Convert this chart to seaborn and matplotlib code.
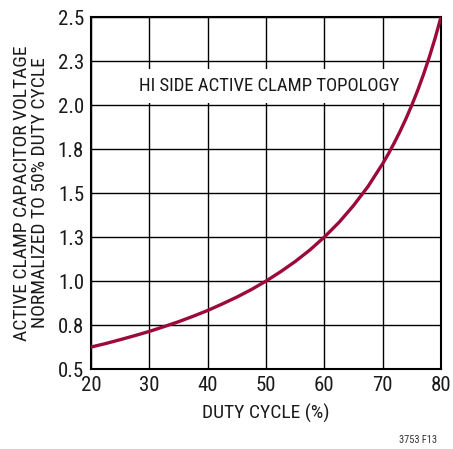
import numpy as np
import pandas as pd
import matplotlib
matplotlib.use("Agg")
import matplotlib.pyplot as plt
import seaborn as sns

# values
duty_cycle = [20, 22.5, 25, 27.5, 30, 32.5, 35, 37.5, 40, 42.5, 45, 47.5, 50,
              52.5, 55, 57.5, 60, 62.5, 65, 67.5, 70, 71, 72, 73, 74, 75, 76,
              77, 78, 79, 80]
clamp_voltage = [0.625, 0.645, 0.667, 0.690, 0.714, 0.741, 0.769, 0.800, 0.833,
                 0.870, 0.909, 0.952, 1.0, 1.053, 1.111, 1.176, 1.25, 1.333,
                 1.429, 1.538, 1.667, 1.724, 1.786, 1.852, 1.923, 2.0, 2.083,
                 2.174, 2.273, 2.381, 2.5]
x_ticks = [20, 30, 40, 50, 60, 70, 80]
y_ticks = [0.5, 0.75, 1.0, 1.25, 1.5, 1.75, 2.0, 2.25, 2.5]
y_tick_labels = ["0.5", "0.8", "1.0", "1.3", "1.5", "1.8", "2.0", "2.3", "2.5"]

sns.set_style("white")
plt.rcParams['font.family'] = ['Roboto Condensed', 'DejaVu Sans']

df = pd.DataFrame({'duty': duty_cycle, 'vc': clamp_voltage})

fig = plt.figure(figsize=(4.53, 4.49), dpi=100)
ax = fig.add_axes([0.2009, 0.178, 0.7726, 0.784])

sns.lineplot(data=df, x='duty', y='vc', ax=ax, color='#9b0a3b', linewidth=2.4, zorder=3)

ax.set_xlim(20, 80)
ax.set_ylim(0.5, 2.5)
ax.set_xticks(x_ticks)
ax.set_yticks(y_ticks)
ax.set_yticklabels(y_tick_labels)
ax.tick_params(length=0, labelsize=15, pad=5, colors='#1a1a1a')
ax.grid(True, color='black', linewidth=1.0)
for s in ax.spines.values():
    s.set_color('black')
    s.set_linewidth(1.5)

ax.set_xlabel('DUTY CYCLE (%)', fontsize=14, color='#1a1a1a', labelpad=6)
ax.set_ylabel('ACTIVE CLAMP CAPACITOR VOLTAGE\nNORMALIZED TO 50% DUTY CYCLE',
              fontsize=14, color='#1a1a1a', labelpad=6, linespacing=1.0)

ax.text(50.5, 2.08, 'HI SIDE ACTIVE CLAMP TOPOLOGY', fontsize=13.5, color='#1a1a1a',
        ha='center', va='baseline', zorder=4,
        bbox=dict(facecolor='white', edgecolor='none', pad=6))

fig.text(0.965, 0.01, '3753 F13', fontsize=7.5, ha='right', va='bottom', color='#333333')

plt.savefig('out.png', dpi=100)
